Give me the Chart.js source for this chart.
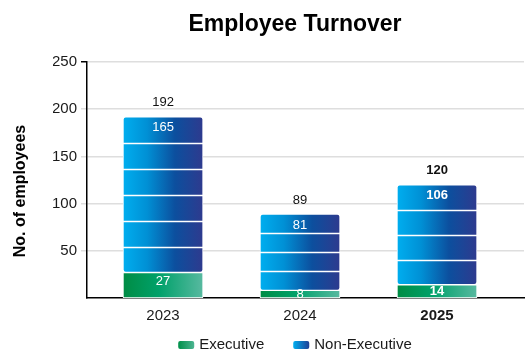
<!DOCTYPE html>
<html>
<head>
<meta charset="utf-8">
<title>Employee Turnover</title>
<script src="https://cdn.jsdelivr.net/npm/chart.js@4.4.1/dist/chart.umd.min.js"></script>
<style>
  html, body { margin: 0; padding: 0; background: #fff; }
  #wrap { width: 528px; height: 353px; }
</style>
</head>
<body>
<div id="wrap"><canvas id="turnover"></canvas></div>
<script>
const years = ["2023", "2024", "2025"];
const executive = [27, 8, 14];
const nonExecutive = [165, 81, 106];
const yTicks = [50, 100, 150, 200, 250];

const totals = years.map((_, i) => executive[i] + nonExecutive[i]);

// latest year is set in bold
const current = 2;
// white bands across each non-executive bar
const bands = [6, 4, 4];

const FONT = "'Liberation Sans', Arial, sans-serif";
const BAR_W = 80;

const greenStops = [[0, "#008c44"], [0.45, "#00a16a"], [1, "#58b9a0"]];
const blueStops = [[0, "#00aeef"], [0.3, "#0090d5"], [0.65, "#0c4f9e"], [1, "#2e3a8e"]];

Chart.defaults.font.family = FONT;

function barFill(stops) {
  return (ctx) => {
    const chart = ctx.chart;
    if (ctx.type !== "data" || !chart.scales.x) return stops[0][1];
    const cx = chart.scales.x.getPixelForValue(ctx.dataIndex);
    if (!isFinite(cx)) return stops[0][1];
    const g = chart.ctx.createLinearGradient(cx - BAR_W / 2, 0, cx + BAR_W / 2, 0);
    stops.forEach(([o, c]) => g.addColorStop(o, c));
    return g;
  };
}

function font(size, bold) {
  return (bold ? "bold " : "") + size + "px " + FONT;
}

const decorations = {
  id: "decorations",
  afterDatasetsDraw(chart) {
    const ctx = chart.ctx;
    const exec = chart.getDatasetMeta(0).data;
    const non = chart.getDatasetMeta(1).data;
    ctx.save();

    // bands
    ctx.strokeStyle = "#ffffff";
    ctx.lineWidth = 1.5;
    non.forEach((el, i) => {
      const { x, y, base, width } = el.getProps(["x", "y", "base", "width"], true);
      for (let k = 1; k < bands[i]; k++) {
        const yy = Math.round(y + (base - y) * k / bands[i]) + 0.5;
        ctx.beginPath();
        ctx.moveTo(x - width / 2, yy);
        ctx.lineTo(x + width / 2, yy);
        ctx.stroke();
      }
    });

    // value labels
    ctx.textAlign = "center";
    ctx.textBaseline = "middle";
    years.forEach((_, i) => {
      const bold = i === current;
      const e = exec[i].getProps(["x", "y", "base"], true);
      const n = non[i].getProps(["x", "y", "base"], true);
      ctx.font = font(13, bold);
      ctx.fillStyle = "#ffffff";
      const eh = e.base - e.y;
      ctx.fillText(executive[i], e.x, eh < 22 ? (e.y + e.base) / 2 : e.y + 9);
      ctx.fillText(nonExecutive[i], n.x, n.y + 11);
      ctx.fillStyle = "#111111";
      ctx.fillText(totals[i], n.x, n.y - 14);
    });
    ctx.restore();
  },
  afterDraw(chart) {
    const ctx = chart.ctx;
    ctx.save();

    ctx.fillStyle = "#000000";
    ctx.font = font(23, true);
    ctx.textAlign = "center";
    ctx.textBaseline = "alphabetic";
    ctx.fillText("Employee Turnover", 295, 31);

    ctx.save();
    ctx.translate(21, 191);
    ctx.rotate(-Math.PI / 2);
    ctx.font = font(16, true);
    ctx.textBaseline = "middle";
    ctx.fillText("No. of employees", 0, 0);
    ctx.restore();

    // legend
    const items = [
      { text: "Executive", stops: [[0, "#00904a"], [1, "#4cb491"]] },
      { text: "Non-Executive", stops: [[0, "#00aeef"], [1, "#1f3f96"]] }
    ];
    ctx.font = font(15, false);
    const boxW = 16, boxH = 8, gap = 5, spacing = 29, cy = 345;
    const widths = items.map(it => boxW + gap + ctx.measureText(it.text).width);
    let x = 295 - (widths[0] + widths[1] + spacing) / 2;
    ctx.textAlign = "left";
    ctx.textBaseline = "middle";
    items.forEach((it, i) => {
      const g = ctx.createLinearGradient(x, 0, x + boxW, 0);
      it.stops.forEach(([o, c]) => g.addColorStop(o, c));
      ctx.fillStyle = g;
      ctx.beginPath();
      ctx.roundRect(x, cy - boxH / 2, boxW, boxH, 2);
      ctx.fill();
      ctx.fillStyle = "#1a1a1a";
      ctx.fillText(it.text, x + boxW + gap, cy);
      x += widths[i] + spacing;
    });
    ctx.restore();
  }
};

new Chart(document.getElementById("turnover"), {
  type: "bar",
  data: {
    datasets: [
      {
        label: "Executive",
        data: executive.map((v, i) => ({ x: i, y: v })),
        backgroundColor: barFill(greenStops)
      },
      {
        label: "Non-Executive",
        data: nonExecutive.map((v, i) => ({ x: i, y: v })),
        backgroundColor: barFill(blueStops)
      }
    ]
  },
  options: {
    responsive: true,
    maintainAspectRatio: false,
    animation: false,
    layout: { padding: { top: 62, left: 53, right: 4, bottom: 19 } },
    datasets: {
      bar: {
        barThickness: BAR_W,
        borderWidth: 1,
        borderColor: "#ffffff",
        borderRadius: 3,
        borderSkipped: false
      }
    },
    plugins: {
      legend: { display: false },
      title: { display: false },
      tooltip: { enabled: false }
    },
    scales: {
      x: {
        type: "linear",
        stacked: true,
        offset: false,
        min: -0.555,
        max: 2.635,
        afterBuildTicks: (s) => { s.ticks = years.map((_, i) => ({ value: i })); },
        ticks: {
          callback: (v) => years[v],
          color: "#1a1a1a",
          padding: 9,
          maxRotation: 0,
          autoSkip: false,
          font: (c) => ({ size: 15, weight: c.tick && c.tick.value === current ? "bold" : "normal" })
        },
        grid: { display: false, drawTicks: false, offset: false },
        border: { color: "#000000", width: 1.5 }
      },
      y: {
        stacked: true,
        min: 0,
        max: 250,
        afterBuildTicks: (s) => { s.ticks = yTicks.map(v => ({ value: v })); },
        afterFit: (s) => { s.width = 34; },
        ticks: { color: "#1a1a1a", padding: 4, font: { size: 15 } },
        grid: {
          color: "#dedede",
          lineWidth: 1.5,
          tickLength: 6,
          tickColor: (c) => (c.tick && c.tick.value === 250 ? "#000000" : "#dedede")
        },
        border: { color: "#000000", width: 1.5 }
      }
    }
  },
  plugins: [decorations]
});
</script>
</body>
</html>
